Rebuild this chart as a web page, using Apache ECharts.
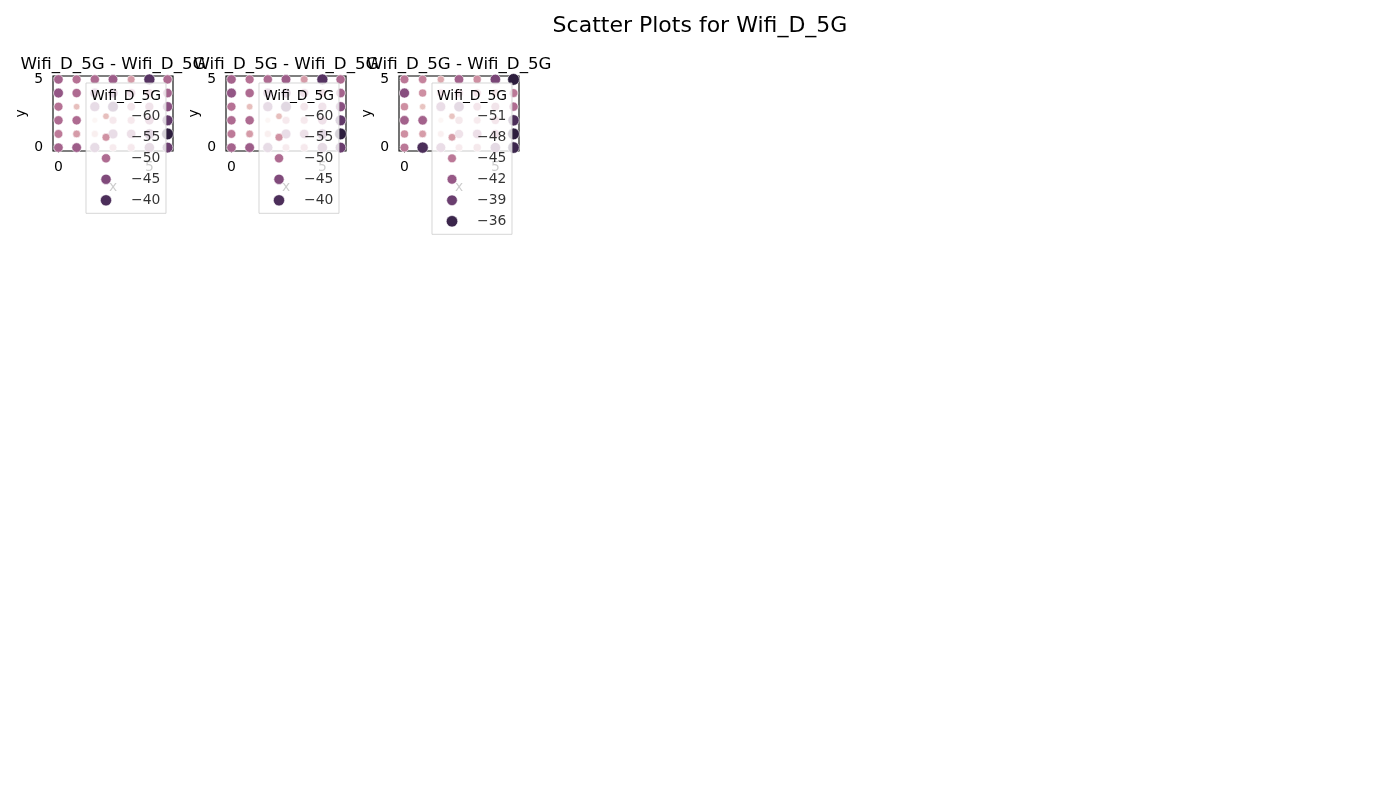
<!DOCTYPE html>
<html>
<head>
<meta charset="utf-8">
<script src="https://cdn.jsdelivr.net/npm/echarts@6/dist/echarts.min.js"></script>
<style>
html,body{margin:0;padding:0;background:#ffffff;}
#chart{width:1400px;height:805px;}
</style>
</head>
<body>
<div id="chart"></div>
<script>
// ---------------- data ----------------
const suptitle = 'Scatter Plots for Wifi_D_5G';
const subplotTitles = ['Wifi_D_5G - Wifi_D_5G', 'Wifi_D_5G - Wifi_D_5G', 'Wifi_D_5G - Wifi_D_5G'];
const hueName = 'Wifi_D_5G';
const xLabel = 'x';
const yLabel = 'y';
const xValues = [0, 1, 2, 3, 4, 5, 6];
const yValues = [0, 1, 2, 3, 4, 5];
const axisTickValues = [0, 5];

// rows are y = 0..5, columns are x = 0..6
const plot1 = [
  [-49, -48, -46, -56, -55, -45, -43],
  [-52, -56, -58, -47, -49, -44, -37],
  [-50, -50, -62, -55, -55, -50, -42],
  [-51, -60, -46, -43, -53, -51, -46],
  [-47, -50, -47, -46, -50, -52, -49],
  [-49, -51, -50, -48, -56, -41, -50]
];
const plot2 = [
  [-49, -48, -46, -56, -55, -45, -43],
  [-52, -56, -58, -47, -49, -44, -37],
  [-50, -50, -62, -55, -55, -50, -42],
  [-51, -60, -46, -43, -53, -51, -46],
  [-47, -50, -47, -46, -50, -52, -49],
  [-49, -51, -50, -48, -56, -41, -50]
];
const plot3 = [
  [-45, -37, -42, -48, -47, -40, -36],
  [-47, -48, -50, -44, -43, -44, -35],
  [-43, -43, -52, -47, -48, -46, -37],
  [-47, -51, -42, -40, -46, -45, -44],
  [-41, -47, -46, -45, -46, -47, -45],
  [-45, -46, -49, -43, -47, -40, -35]
];
const legendTicks1 = [-60, -55, -50, -45, -40];
const legendTicks2 = [-60, -55, -50, -45, -40];
const legendTicks3 = [-51, -48, -45, -42, -39, -36];

const plots = [plot1, plot2, plot3];
const legendTicks = [legendTicks1, legendTicks2, legendTicks3];

// ---------------- styling / layout ----------------
const FONT = 'DejaVu Sans';
const panelLefts = [53, 226, 399];
const panelTop = 76, panelW = 120, panelH = 75;
const legendOffsetX = 33, legendTop = 83, legendW = 80;
const legendFirstY = 33.3, legendStep = 21, legendMarkerX = 20, legendTextX = 45;

// seaborn default cubehelix colormap (light -> dark)
function cubehelix(x) {
  const start = 0, rot = 0.4, gamma = 1.0, hue = 0.8;
  const xg = Math.pow(x, gamma);
  const a = hue * xg * (1 - xg) / 2;
  const phi = 2 * Math.PI * (start / 3 + rot * x);
  const c = Math.cos(phi), s = Math.sin(phi);
  const cl = v => Math.max(0, Math.min(1, v));
  const r = cl(xg + a * (-0.14861 * c + 1.78277 * s));
  const g = cl(xg + a * (-0.29227 * c - 0.90649 * s));
  const b = cl(xg + a * (1.97294 * c));
  const h = v => Math.round(v * 255).toString(16).padStart(2, '0');
  return '#' + h(r) + h(g) + h(b);
}
const cmapStops = [];
for (let i = 0; i <= 40; i++) {
  const t = i / 40;
  cmapStops.push(cubehelix(0.85 - 0.7 * t));
}
function sizeFor(v, lo, hi) {
  const s = 18 + (v - lo) / (hi - lo) * 54; // points^2
  return Math.sqrt(s) * 100 / 72;           // px diameter
}
function fmtTick(v) { return (v < 0 ? '\u2212' : '') + Math.abs(v); }

const grids = [], xAxes = [], yAxes = [], series = [], visualMaps = [], graphics = [];

graphics.push({
  type: 'text', x: 700, y: 26, z: 100,
  style: { text: suptitle, font: '22px "' + FONT + '"', fill: '#000', textAlign: 'center', textVerticalAlign: 'middle' }
});

plots.forEach((plot, i) => {
  const left = panelLefts[i];
  const flat = [];
  yValues.forEach((y, r) => xValues.forEach((x, c) => flat.push([x, y, plot[r][c]])));
  const vals = flat.map(d => d[2]);
  const lo = Math.min.apply(null, vals), hi = Math.max.apply(null, vals);

  // main panel
  grids.push({ left: left, top: panelTop, width: panelW, height: panelH, show: true,
    borderColor: '#000', borderWidth: 1.1, backgroundColor: 'transparent', z: 0 });
  xAxes.push({ type: 'value', gridIndex: 2 * i, min: -0.3, max: 6.3,
    splitLine: { show: false }, axisLine: { show: false },
    axisTick: { show: true, customValues: axisTickValues, length: 4.9, lineStyle: { color: '#000', width: 1.1 } },
    axisLabel: { customValues: axisTickValues, color: '#000', fontSize: 13.9, fontFamily: FONT, margin: 9 },
    name: xLabel, nameLocation: 'middle', nameGap: 29,
    nameTextStyle: { color: '#000', fontSize: 13.9, fontFamily: FONT } });
  yAxes.push({ type: 'value', gridIndex: 2 * i, min: -0.25, max: 5.25,
    splitLine: { show: false }, axisLine: { show: false },
    axisTick: { show: true, customValues: axisTickValues, length: 4.9, lineStyle: { color: '#000', width: 1.1 } },
    axisLabel: { customValues: axisTickValues, color: '#000', fontSize: 13.9, fontFamily: FONT, margin: 10 },
    name: yLabel, nameLocation: 'middle', nameGap: 25,
    nameTextStyle: { color: '#000', fontSize: 13.9, fontFamily: FONT } });

  const mainIdx = series.length;
  series.push({ type: 'scatter', xAxisIndex: 2 * i, yAxisIndex: 2 * i, z: 2,
    data: flat, symbolSize: d => sizeFor(d[2], lo, hi),
    itemStyle: { opacity: 1, borderColor: '#fff', borderWidth: 0.6 },
    emphasis: { disabled: true } });

  // legend panel
  const ticks = legendTicks[i];
  const lh = legendFirstY + legendStep * (ticks.length - 1) + 13;
  const lleft = left + legendOffsetX;
  grids.push({ left: lleft, top: legendTop, width: legendW, height: lh, show: true,
    backgroundColor: 'rgba(255,255,255,0.8)', borderColor: 'rgba(204,204,204,0.8)', borderWidth: 1, z: 5 });
  xAxes.push({ type: 'value', gridIndex: 2 * i + 1, min: 0, max: legendW, show: false });
  yAxes.push({ type: 'value', gridIndex: 2 * i + 1, min: 0, max: lh, inverse: true, show: false });
  const legIdx = series.length;
  series.push({ type: 'scatter', xAxisIndex: 2 * i + 1, yAxisIndex: 2 * i + 1, z: 6,
    data: ticks.map((t, k) => [legendMarkerX, legendFirstY + legendStep * k, t]),
    symbolSize: d => sizeFor(d[2], lo, hi),
    itemStyle: { opacity: 1, borderColor: '#fff', borderWidth: 0.6 },
    emphasis: { disabled: true } });
  series.push({ type: 'scatter', xAxisIndex: 2 * i + 1, yAxisIndex: 2 * i + 1, z: 6,
    data: ticks.map((t, k) => ({ name: fmtTick(t), value: [legendTextX, legendFirstY + legendStep * k] })),
    symbolSize: 0, itemStyle: { color: 'rgba(0,0,0,0)' },
    label: { show: true, position: 'right', distance: 0, formatter: '{b}', color: '#000', fontSize: 13.9, fontFamily: FONT },
    emphasis: { disabled: true } });

  visualMaps.push({ type: 'continuous', show: false, dimension: 2, seriesIndex: [mainIdx, legIdx],
    min: lo, max: hi, inRange: { color: cmapStops } });

  graphics.push({ type: 'text', x: lleft + legendW / 2, y: 96, z: 100,
    style: { text: hueName, font: '13.9px "' + FONT + '"', fill: '#000', textAlign: 'center', textVerticalAlign: 'middle' } });
  graphics.push({ type: 'text', x: left + panelW / 2, y: 65, z: 100,
    style: { text: subplotTitles[i], font: '16.67px "' + FONT + '"', fill: '#000', textAlign: 'center', textVerticalAlign: 'middle' } });
});

const chart = echarts.init(document.getElementById('chart'), null, { renderer: 'canvas' });
chart.setOption({
  backgroundColor: '#ffffff',
  animation: false,
  textStyle: { fontFamily: FONT },
  grid: grids,
  xAxis: xAxes,
  yAxis: yAxes,
  visualMap: visualMaps,
  series: series,
  graphic: graphics
});
</script>
</body>
</html>
